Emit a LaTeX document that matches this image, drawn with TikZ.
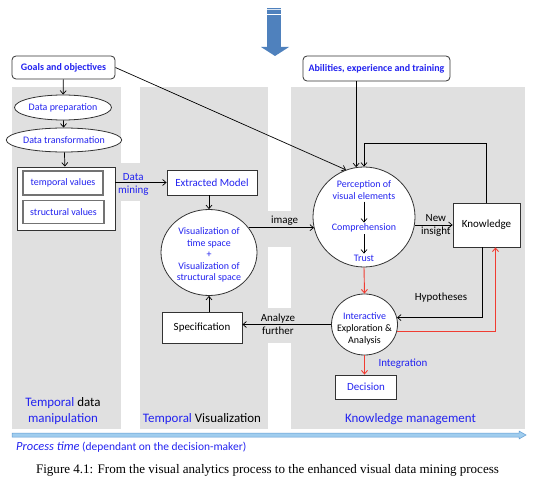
\documentclass[tikz,border=0pt]{standalone}
\usepackage{fontspec}
\setmainfont{Carlito}
\newfontfamily\capfont{Liberation Serif}
\usetikzlibrary{shapes.geometric,arrows.meta,calc}
\definecolor{tblue}{RGB}{35,35,240}
\definecolor{pgray}{RGB}{224,224,224}
\definecolor{tred}{RGB}{240,60,50}
\definecolor{ablue}{RGB}{79,129,189}
\definecolor{lblue}{RGB}{160,205,238}
\definecolor{lbluedk}{RGB}{95,155,210}
\newcommand{\fsz}[1]{\fontsize{#1}{#1}\selectfont}
\begin{document}
\begin{tikzpicture}[x=1bp,y=-1bp,
  every node/.style={inner sep=0pt, font=\fontsize{10}{12}\selectfont},
  box/.style={draw=black!80, fill=white, line width=0.8bp},
  ibox/.style={draw=black!55, fill=white, line width=1.2bp},
  rbox/.style={box, rounded corners=4bp, text=tblue, font=\bfseries\fontsize{10}{12}\selectfont},
  ell/.style={box, ellipse},
  lbl/.style={font=\fontsize{11}{13}\selectfont, align=center},
  plab/.style={font=\fontsize{13}{16}\selectfont, align=center},
  arr/.style={line width=0.7bp, -{Straight Barb[length=3.5bp,width=6bp]}},
  rarr/.style={arr, color=tred, line width=0.9bp}]
\useasboundingbox (0,0) rectangle (537,484);
% panels
\fill[pgray] (12,87) rectangle (121,429);
\fill[pgray] (140,87) rectangle (268,429);
\fill[pgray] (291,87) rectangle (525,429);
\fill[pgray] (121,163) rectangle (140,201);
\fill[pgray] (268,211) rectangle (291,247);
\fill[pgray] (268,308) rectangle (291,343);
% top arrow
\fill[ablue] (267,8) rectangle (281,47);
\fill[ablue] (261,47) -- (289,47) -- (275,56) -- cycle;
\draw[white!80!ablue, line width=0.6bp] (267,9.5) -- (281,9.5);
\draw[white, line width=0.9bp] (267,14.5) -- (281,14.5);
% nodes
\node[rbox, minimum width=103bp, minimum height=23bp] (goals) at (63.5,67.5) {Goals and objectives};
\node[rbox, minimum width=147bp, minimum height=25bp] (abil) at (376.5,68.5) {Abilities, experience and training};
\node[ell, minimum width=96bp, minimum height=25bp, text=tblue] (prep) at (63,107.5) {Data preparation};
\node[ell, minimum width=98bp, minimum height=24bp, text=tblue] (trans) at (64,140) {Data transformation};
\node[box, minimum width=98bp, minimum height=63bp] (vals) at (66,198.5) {};
\node[ibox, minimum width=80bp, minimum height=24bp, text=tblue] (tv) at (63,183) {temporal values};
\node[ibox, minimum width=81bp, minimum height=23bp, text=tblue] (sv) at (63.5,212) {structural values};
\node[box, minimum width=90bp, minimum height=25bp, text=tblue, font=\fsz{11}] (ext) at (212,182.5) {Extracted Model};
\node[ell, minimum width=96bp, minimum height=86bp] (viz) at (209,252.5) {};
\node[text=tblue, align=center, font=\fontsize{10}{11.5}\selectfont] (viztxt) at (209,255) {Visualization of\\time space\\+\\Visualization of\\structural space};
\node[box, minimum width=80bp, minimum height=31bp, font=\fsz{11}] (spec) at (202,328) {Specification};
\node[ell, minimum width=102bp, minimum height=100bp] (perc) at (364,217) {};
\node[text=tblue, align=center, font=\fontsize{10}{12}\selectfont] (p1) at (364,190) {Perception of\\visual elements};
\node[text=tblue] (p2) at (364,228) {Comprehension};
\node[text=tblue] (p3) at (364,258) {Trust};
\node[box, minimum width=67bp, minimum height=44bp, font=\fsz{11}] (know) at (486.5,225) {Knowledge};
\node[ell, minimum width=66bp, minimum height=61bp] (inter) at (364.5,324.5) {};
\node[align=center, font=\fontsize{10}{12}\selectfont] (intertxt) at (364.5,329) {\textcolor{tblue}{Interactive}\\Exploration \&\\Analysis};
\node[box, minimum width=61bp, minimum height=24bp, text=tblue, font=\fsz{11}] (dec) at (366,387) {Decision};
% connectors
\draw[arr] (goals) -- (prep);
\draw[arr] (prep) -- (trans);
\draw[arr] (trans) -- (vals);
\draw[arr] (goals.east) -- (perc.111);
\draw[arr] (abil.south -| perc.99) -- (perc.99);
\coordinate (loop) at (perc.north |- 0,143);
\draw[arr] (know.north) |- (loop) -- (perc.north);
\draw[arr] (vals.east |- ext.west) -- node[lbl, pos=0.35, yshift=-2bp, text=tblue] (dm) {Data\\mining} (ext.west);
\draw[arr] (ext.south -| viz.north) -- (viz.north);
\draw[arr] (viz.32) -- node[lbl, above=2bp, pos=0.55] (img) {image} (viz.32 -| perc.193);
\draw[arr] (perc.east |- know.west) -- node[lbl, pos=0.55] (ni) {New\\insight} (know.west);
\draw[arr, shorten <=2bp, shorten >=1bp] (p1) -- (p2);
\draw[arr, shorten <=2bp, shorten >=1bp] (p2) -- (p3);
\draw[rarr] (perc.south) -- (inter.north);
\draw[arr] ([xshift=-4.5bp]know.south) |- (inter.12);
\node[lbl] (hyp) at (441,298) {Hypotheses};
\draw[rarr] (inter.-12) -| ([xshift=9bp]know.south);
\draw[arr] (inter.west) -- node[lbl, pos=0.6] (af) {Analyze\\further} (inter.west -| spec.east);
\draw[arr] (spec.north -| viz.south) -- (viz.south);
\draw[rarr] (inter.south) -- (inter.south |- dec.north);
\node[lbl, text=tblue] (integ) at (403,364) {Integration};
% panel labels
\node[plab] (lab1) at (63,411) {\textcolor{tblue}{Temporal} data\\\textcolor{tblue}{manipulation}};
\node[plab] (lab2) at (202,419) {\textcolor{tblue}{Temporal} Visualization};
\node[plab, text=tblue] (lab3) at (410.5,419) {Knowledge management};
% process time arrow
\filldraw[fill=lblue, draw=lbluedk, line width=0.5bp] (12,433) -- (519,433) -- (519,431) -- (526,435) -- (519,439) -- (519,437) -- (12,437) -- cycle;
\node[anchor=west, text=tblue, font=\fsz{11.5}] (ptime) at (16,447) {{\fontsize{12.5}{13}\selectfont\itshape Process time} (dependant on the decision-maker)};
\node[font=\capfont\fsz{13.1}] (cap) at (267.5,470) {Figure 4.1: From the visual analytics process to the enhanced visual data mining process};
\end{tikzpicture}
\end{document}
